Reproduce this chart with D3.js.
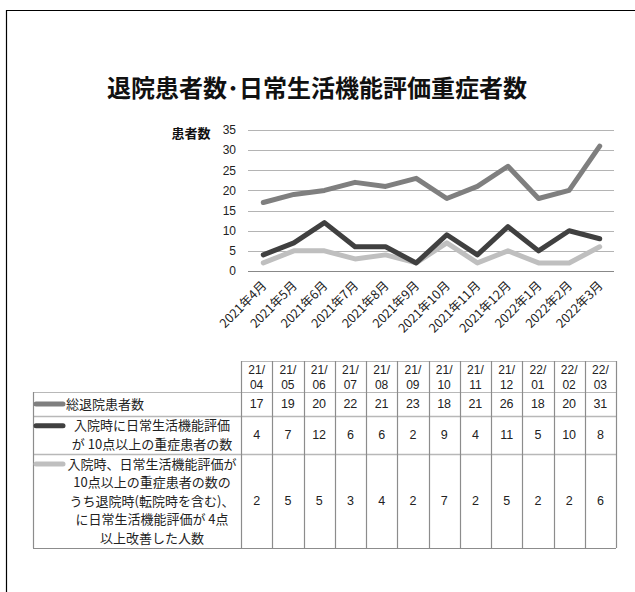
<!DOCTYPE html>
<html><head><meta charset="utf-8">
<script src="https://cdn.jsdelivr.net/npm/d3@7"></script>
<style>
html,body{margin:0;padding:0;background:#fff;}
svg{display:block;}
</style></head>
<body>
<svg id="chart" width="635" height="592"></svg>
<script>
const title = "退院患者数･日常生活機能評価重症者数";
const yAxisTitle = "患者数";
const months = ["2021年4月","2021年5月","2021年6月","2021年7月","2021年8月","2021年9月","2021年10月","2021年11月","2021年12月","2022年1月","2022年2月","2022年3月"];
const tableHeaders = [["21/","04"],["21/","05"],["21/","06"],["21/","07"],["21/","08"],["21/","09"],["21/","10"],["21/","11"],["21/","12"],["22/","01"],["22/","02"],["22/","03"]];
const yTicks = [0,5,10,15,20,25,30,35];
const seriesNames = [
  ["総退院患者数"],
  ["入院時に日常生活機能評価","が 10点以上の重症患者の数"],
  ["入院時、日常生活機能評価が","10点以上の重症患者の数の","うち退院時(転院時を含む)、","に日常生活機能評価が 4点","以上改善した人数"]
];
const totalDischarged = [17,19,20,22,21,23,18,21,26,18,20,31];
const severeOnAdmission = [4,7,12,6,6,2,9,4,11,5,10,8];
const improvedBy4 = [2,5,5,3,4,2,7,2,5,2,2,6];
const seriesColors = ["#7f7f7f","#404040","#bfbfbf"];

const series = [totalDischarged, severeOnAdmission, improvedBy4];
const svg = d3.select("#chart");
const font = "'Noto Sans CJK JP','Noto Sans',sans-serif";
const numFont = "'Liberation Sans',Arial,sans-serif";

// page border
svg.append("path").attr("d","M6.5,592 V10.5 H635").attr("fill","none").attr("stroke","#000").attr("stroke-width",1.2);

// title
svg.append("text").attr("x",317).attr("y",97).attr("text-anchor","middle")
  .attr("font-family",font).attr("font-weight","bold").attr("font-size",24).attr("fill","#111").text(title);

// scales
const x = d3.scaleBand().domain(months).range([248,615]);
const y = d3.scaleLinear().domain([0,35]).range([271,130]);

// gridlines
svg.append("g").selectAll("line").data(yTicks.filter(d=>d>0)).join("line")
  .attr("x1",248).attr("x2",614).attr("y1",d=>Math.round(y(d))+0.5).attr("y2",d=>Math.round(y(d))+0.5)
  .attr("stroke","#b4b4b4").attr("stroke-width",1);

// y axis
const ya = svg.append("g").attr("transform","translate(241,0)")
  .call(d3.axisLeft(y).tickValues(yTicks).tickSize(0).tickPadding(5));
ya.select(".domain").remove();
ya.selectAll("text").attr("font-family",numFont).attr("font-size",12).attr("fill","#222");

// x axis
const xa = svg.append("g").attr("transform",`translate(0,${Math.round(y(0))+0.5})`)
  .call(d3.axisBottom(x).tickSize(0).tickPadding(0));
xa.select(".domain").attr("stroke","#888").attr("stroke-width",1.2).attr("d","M248,0H614");
xa.selectAll("text")
  .attr("font-family",font).attr("font-size",12.5).attr("fill","#222")
  .attr("text-anchor","end").attr("dy",0)
  .attr("transform","translate(4,15) rotate(-45)");

// y axis title
svg.append("text").attr("x",191).attr("y",138).attr("text-anchor","middle")
  .attr("font-family",font).attr("font-weight","bold").attr("font-size",13).attr("fill","#111").text(yAxisTitle);

// lines
const line = d3.line().x((d,i)=>x(months[i])+x.bandwidth()/2).y(d=>y(d));
[0,2,1].forEach(si=>{
  svg.append("path").datum(series[si]).attr("d",line)
    .attr("fill","none").attr("stroke",seriesColors[si]).attr("stroke-width",5)
    .attr("stroke-linejoin","round").attr("stroke-linecap","round");
});

// data table
const tx = d3.scaleBand().domain(months).range([241,616]);
const rowTops = [361,392,416,454,548];
const labelLeft = 33;
const tg = svg.append("g");
const vlineColor = "#8c8c8c", hlineColor = "#b8b8b8";

// horizontal lines
tg.append("line").attr("x1",241).attr("x2",616).attr("y1",rowTops[0]+0.5).attr("y2",rowTops[0]+0.5).attr("stroke",hlineColor);
rowTops.slice(1).forEach((ry,i)=>{
  tg.append("line").attr("x1",labelLeft).attr("x2",616).attr("y1",ry+0.5).attr("y2",ry+0.5)
    .attr("stroke", i===rowTops.length-2 ? vlineColor : hlineColor).attr("stroke-width", i===0||i===rowTops.length-2?1.2:1.6);
});
// vertical lines
const vx = months.map(m=>tx(m)).concat([616]);
vx.forEach((vv,i)=>{
  tg.append("line").attr("x1",Math.round(vv)+0.5).attr("x2",Math.round(vv)+0.5)
    .attr("y1",rowTops[0]).attr("y2",rowTops[4]).attr("stroke",vlineColor).attr("stroke-width",1.2);
});
tg.append("line").attr("x1",labelLeft+0.5).attr("x2",labelLeft+0.5).attr("y1",rowTops[1]).attr("y2",rowTops[4]).attr("stroke",vlineColor).attr("stroke-width",1.2);

// header
tableHeaders.forEach((h,i)=>{
  const cx = tx(months[i]) + tx.bandwidth()/2;
  h.forEach((t,j)=>{
    tg.append("text").attr("x",cx).attr("y",370+j*14.5).attr("dy","0.35em").attr("text-anchor","middle")
      .attr("font-family",numFont).attr("font-size",12).attr("fill","#222").text(t);
  });
});

// rows
series.forEach((s,si)=>{
  const top = rowTops[si+1], bot = rowTops[si+2];
  const mid = (top+bot)/2;
  const names = seriesNames[si];
  const lh = 18.5;
  const firstY = mid - (names.length-1)*lh/2;
  tg.append("line").attr("x1",36).attr("x2",63).attr("y1",firstY).attr("y2",firstY)
    .attr("stroke",seriesColors[si]).attr("stroke-width",5).attr("stroke-linecap","round");
  names.forEach((t,j)=>{
    const left = si===0;
    tg.append("text").attr("x", left?66:152).attr("y",firstY+j*lh).attr("dy","0.36em")
      .attr("text-anchor", left?"start":"middle")
      .attr("font-family",font).attr("font-size",13).attr("fill","#222").text(t);
  });
  s.forEach((v,i)=>{
    tg.append("text").attr("x",tx(months[i])+tx.bandwidth()/2).attr("y",mid).attr("dy","0.35em")
      .attr("text-anchor","middle").attr("font-family",numFont).attr("font-size",12.5).attr("fill","#222").text(v);
  });
});
</script>
</body></html>
